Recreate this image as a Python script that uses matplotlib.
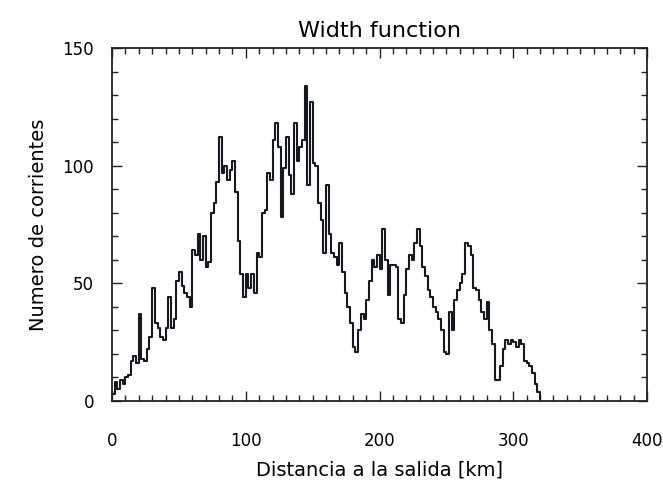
import numpy as np
import matplotlib
matplotlib.use("Agg")
import matplotlib.pyplot as plt
from matplotlib.ticker import MultipleLocator

# Width function: number of streams per 2 km distance bin
bin_width = 2
counts = [
    3, 8, 5, 9, 7, 10, 11, 17, 19, 16,
    37, 18, 17, 22, 27, 48, 33, 31, 27, 26,
    31, 44, 31, 35, 51, 55, 49, 46, 44, 40,
    64, 62, 71, 60, 70, 57, 59, 80, 84, 93,
    112, 97, 100, 94, 98, 102, 89, 68, 54, 44,
    54, 48, 54, 46, 63, 61, 80, 81, 97, 94,
    111, 118, 108, 78, 99, 112, 96, 88, 118, 102,
    108, 111, 134, 92, 127, 101, 100, 84, 77, 63,
    92, 71, 63, 61, 58, 67, 55, 46, 40, 33,
    23, 21, 30, 37, 35, 43, 51, 60, 57, 62,
    56, 73, 60, 45, 58, 58, 57, 35, 33, 45,
    56, 62, 60, 67, 73, 66, 57, 53, 47, 44,
    40, 38, 35, 30, 21, 20, 38, 30, 43, 47,
    50, 54, 67, 66, 62, 48, 47, 43, 38, 35,
    42, 30, 24, 9, 9, 15, 22, 26, 24, 26,
    25, 23, 26, 24, 17, 16, 15, 12, 7, 4,
    1,
]
distance = np.arange(len(counts)) * bin_width

x_ticks = [0, 100, 200, 300, 400]
y_ticks = [0, 50, 100, 150]

fig = plt.figure(figsize=(6.63, 4.86), dpi=100)
ax = fig.add_axes([0.169, 0.175, 0.807, 0.726])

# histogram drawn as a step line
ax.step(distance, counts, where="post", color="#15181f", linewidth=1.5)

ax.set_xlim(0, 400)
ax.set_ylim(0, 150)
ax.set_xticks(x_ticks)
ax.set_yticks(y_ticks)
ax.xaxis.set_minor_locator(MultipleLocator(10))
ax.yaxis.set_minor_locator(MultipleLocator(10))

ax.tick_params(which="both", direction="in", top=True, right=True, width=1.0, color="#222")
ax.tick_params(which="major", length=7)
ax.tick_params(which="minor", length=4)
ax.tick_params(axis="x", pad=22, labelsize=12)
ax.tick_params(axis="y", pad=13, labelsize=12)

for sp in ax.spines.values():
    sp.set_linewidth(1.3)
    sp.set_color("#222")

ax.set_title("Width function", fontsize=16, pad=8)
ax.set_xlabel("Distancia a la salida [km]", fontsize=14, labelpad=8)
ax.set_ylabel("Numero de corrientes", fontsize=14, labelpad=10)

fig.savefig("out.png", dpi=100)
